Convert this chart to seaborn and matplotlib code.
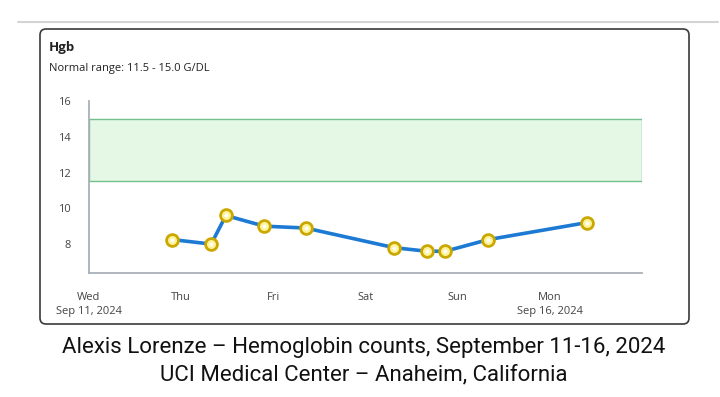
"""
Hemoglobin trend chart, Sep 11-16 2024
"""

import matplotlib
matplotlib.use("Agg")
import matplotlib.pyplot as plt
import matplotlib.dates as mdates
import matplotlib.patches as mpatches
import seaborn as sns
import pandas as pd

# Data
times = [
    "2024-09-11 21:45", "2024-09-12 07:50", "2024-09-12 11:40",
    "2024-09-12 21:40", "2024-09-13 08:25", "2024-09-14 07:30",
    "2024-09-14 16:00", "2024-09-14 20:50", "2024-09-15 08:00",
    "2024-09-16 09:40",
]
hgb = [8.25, 8.0, 9.6, 9.0, 8.9, 7.8, 7.6, 7.6, 8.25, 9.2]
normal_low, normal_high = 11.5, 15.0
y_ticks = [8, 10, 12, 14, 16]
day_ticks = ["2024-09-11", "2024-09-12", "2024-09-13", "2024-09-14",
             "2024-09-15", "2024-09-16"]
day_labels = ["Wed\nSep 11, 2024", "Thu", "Fri", "Sat", "Sun", "Mon\nSep 16, 2024"]
x_range = ["2024-09-11", "2024-09-17"]
title = "Hgb"
subtitle = "Normal range: 11.5 - 15.0 G/DL"
caption = ["Alexis Lorenze \u2013 Hemoglobin counts, September 11-16, 2024",
           "UCI Medical Center \u2013 Anaheim, California"]

df = pd.DataFrame({"time": pd.to_datetime(times), "hgb": hgb})

sns.set_style("white")
plt.rcParams["font.family"] = ["Open Sans", "DejaVu Sans"]

W, H = 720, 397
fig = plt.figure(figsize=(W / 100, H / 100), dpi=100)

# thin separator line at the very top
fig.add_artist(plt.Line2D([18 / W, 718 / W], [1 - 21.5 / H, 1 - 21.5 / H],
                          transform=fig.transFigure, color="#d4d4d4", lw=1.5))

# card border (behind the axes)
card = mpatches.FancyBboxPatch((0.40, (H - 324) / 100), 6.49, 2.95,
                               boxstyle="round,pad=0,rounding_size=0.06",
                               transform=fig.dpi_scale_trans,
                               facecolor="white", edgecolor="#3a3a3a", lw=1.2,
                               zorder=-5)
fig.patches.append(card)

fig.text(49 / W, 1 - 48 / H, title, fontsize=9.5, fontweight="bold",
         va="center", ha="left", color="#222222")
fig.text(49 / W, 1 - 69 / H, subtitle, fontsize=8, va="center", ha="left",
         color="#222222")

ax = fig.add_axes([89 / W, (H - 272.7) / H, (641.7 - 89) / W, (272.7 - 101) / H])
ax.set_facecolor("none")
ax.set_zorder(5)

# normal range band
x0, x1 = pd.to_datetime(x_range)
ax.add_patch(mpatches.Rectangle((mdates.date2num(x0), normal_low),
                                mdates.date2num(x1) - mdates.date2num(x0),
                                normal_high - normal_low,
                                facecolor="#e5f7e5", edgecolor="#74c08a", lw=1,
                                zorder=1))

sns.lineplot(data=df, x="time", y="hgb", ax=ax, color="#1c7ad4", lw=2.6,
             marker="o", markersize=8.5, markerfacecolor="#fff39a",
             markeredgecolor="#caa800", markeredgewidth=2.0, zorder=3)
ax.scatter(df["time"], df["hgb"], s=8, color="white", zorder=4, linewidths=0)

ax.set_xlim(x0, x1)
ax.set_ylim(6.4, 16)
ax.set_yticks(y_ticks)
ax.set_xticks(pd.to_datetime(day_ticks))
ax.set_xticklabels(day_labels)
ax.set_xlabel("")
ax.set_ylabel("")

for s in ["top", "right"]:
    ax.spines[s].set_visible(False)
for s in ["left", "bottom"]:
    ax.spines[s].set_color("#a9b0b8")
    ax.spines[s].set_linewidth(1.3)

ax.tick_params(axis="y", length=0, pad=13, labelsize=8, labelcolor="#444444")
ax.tick_params(axis="x", length=3, width=1, color="#a9b0b8", pad=11,
               labelsize=8, labelcolor="#444444")
for lbl in ax.get_xticklabels():
    lbl.set_linespacing(1.3)

cap_font = ["Roboto", "DejaVu Sans"]
fig.text(364 / W, 1 - 347 / H, caption[0], fontsize=16, ha="center",
         va="center", family=cap_font, color="#111111")
fig.text(364 / W, 1 - 375 / H, caption[1], fontsize=16, ha="center",
         va="center", family=cap_font, color="#111111")

fig.savefig("out.png", dpi=100)
